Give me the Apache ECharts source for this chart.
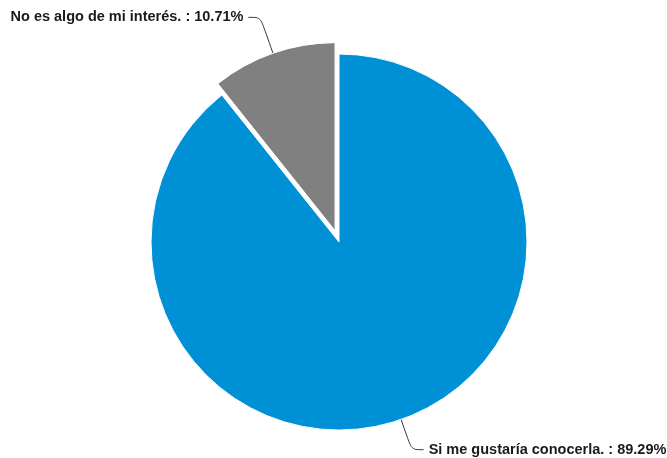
<!DOCTYPE html>
<html>
<head>
<meta charset="utf-8">
<script src="https://cdn.jsdelivr.net/npm/echarts@6/dist/echarts.min.js"></script>
<style>
  html, body { margin: 0; padding: 0; background: #fff; }
  #chart { width: 667px; height: 458px; }
</style>
</head>
<body>
<div id="chart"></div>
<script>
// categorias y porcentajes
var categories = ['Si me gustaría conocerla.', 'No es algo de mi interés.'];
var values = [89.29, 10.71];
var colors = ['#0090D5', '#808080'];
var lineLengths = [32, 38];

var chart = echarts.init(document.getElementById('chart'));

var data = categories.map(function (name, i) {
  return {
    name: name,
    value: values[i],
    selected: i === 1,
    itemStyle: { color: colors[i] },
    labelLine: { length: lineLengths[i] }
  };
});

var option = {
  animation: false,
  series: [
    {
      type: 'pie',
      center: [339, 242],
      radius: 188,
      startAngle: 90,
      clockwise: true,
      selectedMode: 'single',
      selectedOffset: 12,
      avoidLabelOverlap: false,
      itemStyle: { borderColor: '#fff', borderWidth: 1 },
      label: {
        show: true,
        position: 'outside',
        formatter: '{b} : {c}%',
        color: '#1a1a1a',
        fontFamily: 'Liberation Sans, Arial, sans-serif',
        fontWeight: 'bold',
        fontSize: 14.5
      },
      labelLine: {
        show: true,
        length2: 12,
        smooth: true,
        lineStyle: { color: '#333', width: 1 }
      },
      emphasis: { disabled: true },
      data: data
    }
  ]
};

chart.setOption(option);
</script>
</body>
</html>
